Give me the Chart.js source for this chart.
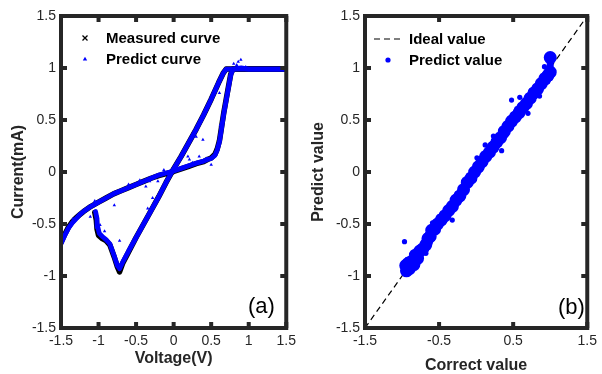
<!DOCTYPE html>
<html>
<head>
<meta charset="utf-8">
<script src="https://cdn.jsdelivr.net/npm/chart.js@4.4.1/dist/chart.umd.min.js"></script>
<style>
html, body { margin: 0; padding: 0; background: #fff; }
#wrap { position: relative; width: 602px; height: 374px; }
#wrap canvas { position: absolute; top: 0; }
</style>
</head>
<body>
<div id="wrap">
  <canvas id="chartA" width="301" height="374" style="left:0px"></canvas>
  <canvas id="chartB" width="301" height="374" style="left:301px"></canvas>
</div>
<script>
// ---- (a) I-V curve ----
const ticksA = [-1.5, -1, -0.5, 0, 0.5, 1, 1.5];

// measured curve, sweep through the lower positive branch
const measV1 = [-1.5, -1.45, -1.4, -1.35, -1.3, -1.25, -1.2, -1.1, -1.0, -0.9, -0.8, -0.7, -0.6, -0.5, -0.4, -0.3, -0.2, -0.1, 0, 0.1, 0.2, 0.3, 0.4, 0.45, 0.5, 0.55, 0.58, 0.61, 0.64, 0.67, 0.7, 0.73, 0.76, 0.79, 0.9, 1.0, 1.2, 1.5];
const measI1 = [-0.68, -0.6, -0.53, -0.48, -0.44, -0.41, -0.38, -0.33, -0.29, -0.25, -0.21, -0.18, -0.15, -0.12, -0.09, -0.06, -0.035, -0.015, 0.005, 0.03, 0.055, 0.08, 0.1, 0.12, 0.135, 0.17, 0.22, 0.3, 0.44, 0.58, 0.7, 0.82, 0.94, 0.99, 0.99, 0.99, 0.99, 0.99];
// measured curve, return sweep along the straight branch and the negative loop
const measV2 = [1.5, 0.9, 0.7, 0.66, 0.6, 0.5, 0.4, 0.3, 0.2, 0.1, 0, -0.1, -0.2, -0.3, -0.4, -0.5, -0.6, -0.68, -0.72, -0.75, -0.79, -0.85, -0.9, -0.95, -1.0, -1.02, -1.03, -1.05];
const measI2 = [0.99, 0.99, 0.99, 0.95, 0.86, 0.70, 0.55, 0.41, 0.28, 0.15, 0.03, -0.1, -0.24, -0.37, -0.50, -0.63, -0.77, -0.88, -0.96, -0.91, -0.82, -0.7, -0.66, -0.64, -0.61, -0.55, -0.46, -0.39];

// predicted curve
const predV1 = [-1.5, -1.45, -1.4, -1.35, -1.3, -1.25, -1.2, -1.1, -1.0, -0.9, -0.8, -0.7, -0.6, -0.5, -0.4, -0.3, -0.2, -0.1, 0, 0.1, 0.2, 0.3, 0.4, 0.45, 0.5, 0.55, 0.58, 0.61, 0.64, 0.67, 0.7, 0.73, 0.76, 0.79, 0.9, 1.0, 1.2, 1.5];
const predI1 = [-0.69, -0.61, -0.54, -0.49, -0.45, -0.41, -0.38, -0.33, -0.29, -0.25, -0.21, -0.18, -0.15, -0.12, -0.09, -0.06, -0.03, -0.01, 0.01, 0.035, 0.06, 0.085, 0.105, 0.12, 0.13, 0.16, 0.21, 0.29, 0.43, 0.57, 0.69, 0.81, 0.93, 0.99, 1.0, 0.99, 0.99, 0.99];
const predV2 = [1.5, 0.9, 0.7, 0.66, 0.6, 0.5, 0.4, 0.3, 0.2, 0.1, 0, -0.1, -0.2, -0.3, -0.4, -0.5, -0.6, -0.68, -0.72, -0.75, -0.79, -0.85, -0.9, -0.95, -0.99, -1.01, -1.02, -1.04];
const predI2 = [0.99, 0.99, 0.99, 0.95, 0.86, 0.70, 0.55, 0.41, 0.28, 0.15, 0.03, -0.1, -0.24, -0.37, -0.50, -0.63, -0.76, -0.87, -0.93, -0.9, -0.81, -0.69, -0.65, -0.62, -0.59, -0.53, -0.45, -0.38];
// scattered predicted points off the curve
const predOutV = [-1.05, -0.79, -0.72, -0.345, -0.28, -0.32, -0.37, -0.21, -1.11, -1.34, -0.92, -0.98, -1.04, 0.895, 0.84, 0.96, 0.74, 0.72, 0.61, 0.62, 0.39, 0.3, 0.21, 0.34, 0.19, 0.5, -0.13, -0.22, 0.7, 0.8, 0.86, -0.6, -0.45, 0.05, 0.25, 0.44];
const predOutI = [-0.28, -0.32, -0.66, -0.35, -0.25, -0.09, -0.14, -0.09, -0.43, -0.45, -0.57, -0.51, -0.3, 1.08, 1.03, 1.01, 0.89, 0.76, 0.76, 0.45, 0.31, 0.34, 0.12, 0.15, 0.15, 0.07, 0.02, -0.03, 0.68, 1.04, 1.06, -0.12, -0.08, 0.04, 0.09, 0.13];

// ---- (b) correct vs predict ----
const ticksBx = [-1.5, -0.5, 0.5, 1.5];
const ticksBy = [-1.5, -1, -0.5, 0, 0.5, 1, 1.5];
const idealX = [-1.5, 1.5];
const idealY = [-1.5, 1.5];
const bandX = [-0.95, -0.94, -0.92, -0.9, -0.87, -0.84, -0.82, -0.79, -0.76, -0.72, -0.68, -0.65, -0.62, -0.6, -0.56, -0.52, -0.47, -0.42, -0.37, -0.32, -0.27, -0.22, -0.17, -0.12, -0.07, -0.02, 0.03, 0.08, 0.13, 0.18, 0.23, 0.28, 0.33, 0.38, 0.43, 0.48, 0.53, 0.58, 0.63, 0.68, 0.73, 0.78, 0.83, 0.88, 0.93, 0.97, 1.0, 1.0];
const bandY = [-0.9, -0.95, -0.88, -0.93, -0.86, -0.89, -0.8, -0.83, -0.76, -0.74, -0.7, -0.64, -0.62, -0.56, -0.55, -0.5, -0.46, -0.42, -0.37, -0.33, -0.27, -0.23, -0.17, -0.1, -0.06, 0.0, 0.05, 0.1, 0.15, 0.19, 0.24, 0.29, 0.33, 0.39, 0.44, 0.49, 0.53, 0.57, 0.62, 0.66, 0.71, 0.76, 0.8, 0.85, 0.9, 0.93, 0.96, 1.1];
const outX = [-0.967, 0.478, 0.589, 0.856, 0.7, 0.233, 0.122, 0.344, 0.011, -0.1, -0.211, -0.322, -0.5, -0.589, -0.678, -0.856, -0.856, 0.967, 0.922, -0.93, -0.9, -0.8, -0.7, -0.62, -0.55, -0.4, -0.3, -0.15, -0.05, 0.05, 0.15, 0.3, 0.4, 0.55, 0.65, 0.75, 0.8, 0.9, 0.95, 1.0, 1.0];
const outY = [-0.67, 0.692, 0.718, 0.73, 0.564, 0.346, 0.26, 0.205, 0.137, -0.029, -0.205, -0.462, -0.43, -0.488, -0.782, -0.782, -0.894, 0.868, 1.013, -0.84, -0.96, -0.88, -0.66, -0.68, -0.5, -0.44, -0.28, -0.2, 0.0, 0.02, 0.17, 0.26, 0.35, 0.61, 0.59, 0.77, 0.73, 0.91, 0.86, 1.05, 0.9];

const pts = (xs, ys) => xs.map((x, i) => ({x: x, y: ys[i]}));
const tickList = arr => scale => { scale.ticks = arr.map(v => ({value: v})); };

Chart.defaults.font.family = '"Liberation Sans", Arial, sans-serif';
Chart.defaults.color = '#262626';

// box, inward ticks on four sides, legend and panel tag
const framePlugin = {
  id: 'frame',
  afterDraw(chart, args, opts) {
    const {ctx, chartArea: a, scales} = chart;
    ctx.save();
    ctx.strokeStyle = '#262626';
    ctx.lineWidth = 4;
    ctx.strokeRect(a.left, a.top, a.right - a.left, a.bottom - a.top);
    ctx.beginPath();
    scales.x.ticks.forEach(t => {
      const x = scales.x.getPixelForValue(t.value);
      ctx.moveTo(x, a.bottom); ctx.lineTo(x, a.bottom - 6);
      ctx.moveTo(x, a.top); ctx.lineTo(x, a.top + 6);
    });
    scales.y.ticks.forEach(t => {
      const y = scales.y.getPixelForValue(t.value);
      ctx.moveTo(a.left, y); ctx.lineTo(a.left + 6, y);
      ctx.moveTo(a.right, y); ctx.lineTo(a.right - 6, y);
    });
    ctx.stroke();

    ctx.textBaseline = 'middle';
    ctx.textAlign = 'left';
    opts.items.forEach(it => {
      if (it.mark === 'cross') {
        ctx.strokeStyle = '#000'; ctx.lineWidth = 1.3;
        ctx.beginPath();
        ctx.moveTo(it.mx - 2.5, it.y - 2.5); ctx.lineTo(it.mx + 2.5, it.y + 2.5);
        ctx.moveTo(it.mx + 2.5, it.y - 2.5); ctx.lineTo(it.mx - 2.5, it.y + 2.5);
        ctx.stroke();
      } else if (it.mark === 'tri') {
        ctx.fillStyle = '#0000ff';
        ctx.beginPath();
        ctx.moveTo(it.mx, it.y - 2.2); ctx.lineTo(it.mx + 2.2, it.y + 1.6); ctx.lineTo(it.mx - 2.2, it.y + 1.6);
        ctx.closePath(); ctx.fill();
      } else if (it.mark === 'dot') {
        ctx.fillStyle = '#0000ff';
        ctx.beginPath(); ctx.arc(it.mx, it.y, 2.6, 0, Math.PI * 2); ctx.fill();
      } else if (it.mark === 'dash') {
        ctx.strokeStyle = '#000'; ctx.lineWidth = 1.2;
        ctx.setLineDash([6, 4]);
        ctx.beginPath(); ctx.moveTo(it.mx - 14, it.y); ctx.lineTo(it.mx + 14, it.y); ctx.stroke();
        ctx.setLineDash([]);
      }
      ctx.fillStyle = '#000';
      ctx.font = 'bold 15px "Liberation Sans", Arial, sans-serif';
      ctx.fillText(it.text, it.tx, it.y + 1);
    });
    ctx.font = '22px "Liberation Sans", Arial, sans-serif';
    ctx.fillStyle = '#000';
    ctx.fillText(opts.tag, opts.tagX, opts.tagY);
    ctx.restore();
  }
};

function axes(xTicks, yTicks, xTitle, yTitle, yWidth, yTitlePad, xTitlePad, xTitleLH) {
  const tickFont = {size: 14};
  return {
    x: {
      type: 'linear', min: -1.5, max: 1.5,
      afterBuildTicks: tickList(xTicks),
      afterFit: s => { s.height = 46; },
      grid: {display: false, drawTicks: false},
      border: {display: false},
      ticks: {padding: 5, font: tickFont, color: '#262626', autoSkip: false, maxRotation: 0, callback: v => String(v)},
      title: {display: true, text: xTitle, color: '#262626', font: {size: 16, weight: 'bold', lineHeight: xTitleLH}, padding: {top: 0, bottom: xTitlePad}}
    },
    y: {
      type: 'linear', min: -1.5, max: 1.5,
      afterBuildTicks: tickList(yTicks),
      afterFit: s => { s.width = yWidth; },
      grid: {display: false, drawTicks: false},
      border: {display: false},
      ticks: {padding: 5, font: tickFont, color: '#262626', autoSkip: false, callback: v => String(v)},
      title: {display: true, text: yTitle, color: '#262626', font: {size: 16, weight: 'bold'}, padding: {top: yTitlePad, bottom: 0}}
    }
  };
}

const lineSet = (data, color, width, order) => ({
  data: data, showLine: true, borderColor: color, backgroundColor: color,
  borderWidth: width, pointRadius: 0, tension: 0, order: order,
  borderJoinStyle: 'round', borderCapStyle: 'round'
});

new Chart(document.getElementById('chartA'), {
  type: 'scatter',
  data: {
    datasets: [
      lineSet(pts(measV1, measI1), '#000000', 5.5, 4),
      lineSet(pts(measV2, measI2), '#000000', 5.5, 4),
      lineSet(pts(predV1, predI1), '#0000ff', 4.8, 2),
      lineSet(pts(predV2, predI2), '#0000ff', 4.8, 2),
      {data: pts(predOutV, predOutI), pointStyle: 'triangle', pointRadius: 2, borderWidth: 0,
       backgroundColor: '#0000ff', showLine: false, order: 1}
    ]
  },
  options: {
    responsive: false, animation: false,
    layout: {padding: {top: 16, right: 14, left: 0, bottom: 0}},
    scales: axes(ticksA, ticksA, 'Voltage(V)', 'Current(mA)', 61, 9, 6, 1.2),
    plugins: {
      legend: {display: false}, tooltip: {enabled: false},
      frame: {
        items: [
          {mark: 'cross', mx: 85, tx: 106, y: 38, text: 'Measured curve'},
          {mark: 'tri', mx: 85, tx: 106, y: 59, text: 'Predict curve'}
        ],
        tag: '(a)', tagX: 248, tagY: 307
      }
    }
  },
  plugins: [framePlugin]
});

new Chart(document.getElementById('chartB'), {
  type: 'scatter',
  data: {
    datasets: [
      {data: pts(idealX, idealY), showLine: true, borderColor: '#000', borderWidth: 1.2,
       borderDash: [6, 4], pointRadius: 0, order: 3},
      Object.assign(lineSet(pts(bandX, bandY), '#0000ff', 7, 2), {pointRadius: 3}),
      {data: pts(outX, outY), pointRadius: 2.6, borderWidth: 0, backgroundColor: '#0000ff',
       showLine: false, order: 1}
    ]
  },
  options: {
    responsive: false, animation: false,
    layout: {padding: {top: 16, right: 12, left: 0, bottom: 0}},
    scales: axes(ticksBx, ticksBy, 'Correct value', 'Predict value', 64, 8, 0, 1.0),
    plugins: {
      legend: {display: false}, tooltip: {enabled: false},
      frame: {
        items: [
          {mark: 'dash', mx: 87, tx: 108, y: 39, text: 'Ideal value'},
          {mark: 'dot', mx: 87, tx: 108, y: 60, text: 'Predict value'}
        ],
        tag: '(b)', tagX: 257, tagY: 308
      }
    }
  },
  plugins: [framePlugin]
});
</script>
</body>
</html>
